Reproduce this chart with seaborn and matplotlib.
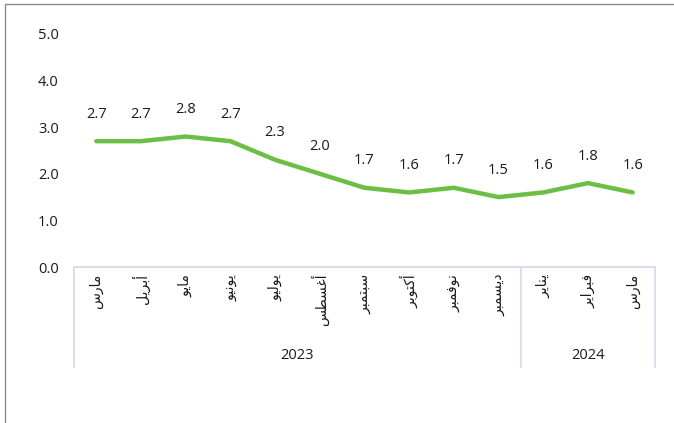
import numpy as np
import pandas as pd
import matplotlib
matplotlib.use("Agg")
import matplotlib.pyplot as plt
import seaborn as sns

months = ["مارس", "أبريل", "مايو", "يونيو", "يوليو", "أغسطس", "سبتمبر",
          "أكتوبر", "نوفمبر", "ديسمبر", "يناير", "فبراير", "مارس"]
values = [2.7, 2.7, 2.8, 2.7, 2.3, 2.0, 1.7, 1.6, 1.7, 1.5, 1.6, 1.8, 1.6]
years = ["2023", "2024"]
year_counts = [10, 3]

# matplotlib has no Arabic shaping, so pick contextual forms by hand
# letter: (isolated, final, initial, medial); 2-tuple = joins on right only
forms = {
    "ا": ("\uFE8D", "\uFE8E"),
    "أ": ("\uFE83", "\uFE84"),
    "د": ("\uFEA9", "\uFEAA"),
    "ر": ("\uFEAD", "\uFEAE"),
    "و": ("\uFEED", "\uFEEE"),
    "ب": ("\uFE8F", "\uFE90", "\uFE91", "\uFE92"),
    "ت": ("\uFE95", "\uFE96", "\uFE97", "\uFE98"),
    "س": ("\uFEB1", "\uFEB2", "\uFEB3", "\uFEB4"),
    "ط": ("\uFEC1", "\uFEC2", "\uFEC3", "\uFEC4"),
    "غ": ("\uFECD", "\uFECE", "\uFECF", "\uFED0"),
    "ف": ("\uFED1", "\uFED2", "\uFED3", "\uFED4"),
    "ك": ("\uFED9", "\uFEDA", "\uFEDB", "\uFEDC"),
    "ل": ("\uFEDD", "\uFEDE", "\uFEDF", "\uFEE0"),
    "م": ("\uFEE1", "\uFEE2", "\uFEE3", "\uFEE4"),
    "ن": ("\uFEE5", "\uFEE6", "\uFEE7", "\uFEE8"),
    "ي": ("\uFEF1", "\uFEF2", "\uFEF3", "\uFEF4"),
}


def shape(word):
    out = []
    for i, ch in enumerate(word):
        f = forms[ch]
        prev_joins = i > 0 and len(forms[word[i - 1]]) == 4
        next_joins = i < len(word) - 1 and len(f) == 4
        if prev_joins and next_joins:
            out.append(f[3])
        elif prev_joins:
            out.append(f[1])
        elif next_joins:
            out.append(f[2])
        else:
            out.append(f[0])
    return "".join(out[::-1])


sns.set_style("white")
plt.rcParams["font.family"] = ["Open Sans", "DejaVu Sans"]

df = pd.DataFrame({"idx": np.arange(len(values)), "value": values})

fig = plt.figure(figsize=(6.74, 4.23), dpi=100)
ax = fig.add_axes([74 / 674, 1 - 267 / 423, (655 - 74) / 674, (267 - 34) / 423])

sns.lineplot(data=df, x="idx", y="value", ax=ax, color="#6CBE45", linewidth=3.2,
             solid_capstyle="round")

for i, v in enumerate(values):
    ax.annotate(f"{v:.1f}", (i, v), xytext=(0, 14), textcoords="offset points",
                ha="center", va="bottom", fontsize=10.5, color="#1a1a1a")

ax.set_xlim(-0.5, len(values) - 0.5)
ax.set_ylim(0, 5)
ax.set_yticks(np.arange(0, 5.1, 1.0))
ax.set_yticklabels([f"{t:.1f}" for t in np.arange(0, 5.1, 1.0)], fontsize=10.5, color="#1a1a1a")
ax.set_xticks(range(len(months)))
ax.set_xticklabels([shape(m) for m in months], rotation=90, fontsize=10,
                   va="top", ha="center", color="#1a1a1a", family="DejaVu Sans")
ax.tick_params(axis="both", length=0)
ax.tick_params(axis="x", pad=5)
ax.tick_params(axis="y", pad=11)
ax.set_xlabel("")
ax.set_ylabel("")

for s in ["top", "right", "left"]:
    ax.spines[s].set_visible(False)
ax.spines["bottom"].set_color("#D9D9F0")
ax.spines["bottom"].set_linewidth(1.3)

# year group separators and labels
trans = ax.get_xaxis_transform()
edges = np.concatenate([[0], np.cumsum(year_counts)]) - 0.5
for e in edges:
    ax.plot([e, e], [0, -100 / 233], transform=trans, color="#D9D9F0",
            linewidth=1.3, clip_on=False)
for y, a, b in zip(years, edges[:-1], edges[1:]):
    ax.text((a + b) / 2, -88 / 233, y, transform=trans, ha="center", va="center",
            fontsize=10.5, color="#1a1a1a")

# outer frame (top and left visible)
fig.add_artist(plt.Line2D([5 / 674, 1], [1 - 4 / 423, 1 - 4 / 423],
                          transform=fig.transFigure, color="#8c8c8c", linewidth=1))
fig.add_artist(plt.Line2D([5 / 674, 5 / 674], [0, 1 - 4 / 423],
                          transform=fig.transFigure, color="#8c8c8c", linewidth=1))

fig.savefig("out.png", dpi=100)
